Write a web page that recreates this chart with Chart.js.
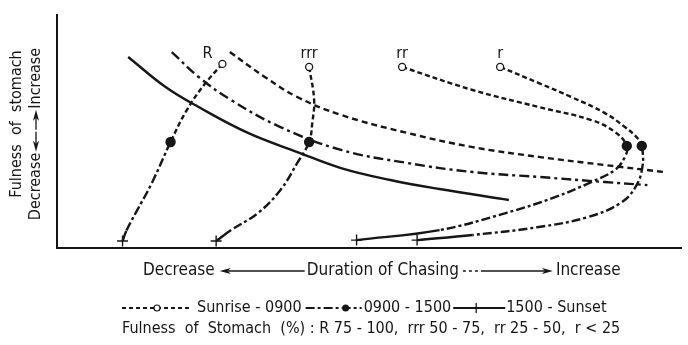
<!DOCTYPE html>
<html>
<head>
<meta charset="utf-8">
<script src="https://cdn.jsdelivr.net/npm/chart.js@4/dist/chart.umd.min.js"></script>
<style>
  html, body { margin: 0; background: #fff; }
  #wrap { width: 688px; height: 345px; }
</style>
</head>
<body>
<div id="wrap"><canvas id="chart"></canvas></div>
<script>
const FONT = '"Liberation Sans Narrow", "DejaVu Sans Condensed", "Roboto Condensed", sans-serif';
const INK = '#161616';

// fullness groups: open circle (sunrise-0900) -> dot (0900-1500) -> plus (1500-sunset)
const groupLabels = ['R', 'rrr', 'rr', 'r'];
const groupDotIndex = [3, 3, 5, 6];
const groupX = [
  [26.5, 23.8, 20.8, 18.2, 15.2, 12.7, 11.1, 10.5],
  [40.4, 41.2, 40.9, 40.4, 38.5, 35.8, 32.2, 27.9, 25.5],
  [55.3, 66.6, 77.2, 85.6, 89.4, 91.3, 91.0, 89.4, 85.6, 79.9, 71.9, 61.3, 48.0],
  [71.0, 77.2, 82.4, 87.8, 91.0, 93.0, 93.7, 93.8, 92.7, 90.3, 85.1, 77.2, 66.6, 57.7]
];
const groupY = [
  [79.0, 70.8, 59.2, 45.5, 27.9, 15.5, 7.3, 3.0],
  [77.7, 63.5, 53.6, 45.5, 36.5, 24.9, 15.0, 7.7, 3.0],
  [77.7, 67.8, 60.5, 54.9, 49.8, 43.8, 39.1, 33.5, 28.3, 21.9, 15.0, 7.7, 3.4],
  [77.7, 70.8, 64.8, 57.9, 51.9, 47.2, 43.8, 34.8, 26.2, 19.3, 13.3, 9.0, 5.6, 3.4]
];

// trend of each time period
const trendLabels = ['Sunrise - 0900', '0900 - 1500', '1500 - Sunset'];
const trendX = [
  [27.7, 33.3, 38.5, 45.5, 56.1, 66.6, 77.2, 87.8, 97.3],
  [18.4, 22.7, 27.9, 35.8, 45.5, 56.1, 66.6, 77.2, 87.8, 94.6],
  [11.4, 17.4, 22.7, 30.6, 38.5, 45.5, 53.4, 61.3, 72.4]
];
const trendY = [
  [84.1, 73.4, 64.8, 57.1, 49.4, 43.3, 39.1, 35.6, 32.6],
  [84.1, 73.4, 63.5, 51.9, 42.1, 36.5, 32.6, 30.5, 28.3, 27.0],
  [82.0, 69.1, 60.5, 49.4, 41.2, 34.3, 29.2, 25.3, 20.6]
];

const DASHED = [6, 4];
const DASHDOT = [10, 4, 3, 4];

const toPoints = (xs, ys) => xs.map((x, i) => ({ x, y: ys[i] }));

const datasets = [];

trendLabels.forEach((label, i) => {
  datasets.push({
    label,
    data: toPoints(trendX[i], trendY[i]),
    borderColor: INK,
    borderWidth: 2.4,
    borderDash: [DASHED, DASHDOT, []][i],
    pointRadius: 0,
    tension: 0.4,
    fill: false
  });
});

groupLabels.forEach((label, i) => {
  const dot = groupDotIndex[i];
  const last = groupX[i].length - 1;
  datasets.push({
    label,
    data: toPoints(groupX[i], groupY[i]),
    borderColor: INK,
    borderWidth: 2.4,
    tension: 0.4,
    fill: false,
    segment: {
      borderDash: c => c.p0DataIndex < dot ? [5, 3] : (c.p0DataIndex >= last - 1 ? [] : [9, 3, 3, 3])
    },
    pointStyle: c => c.dataIndex === last ? 'cross' : 'circle',
    pointRadius: c => c.dataIndex === 0 ? 3.5 : c.dataIndex === dot ? 4.5 : c.dataIndex === last ? 5.5 : 0,
    pointBackgroundColor: c => c.dataIndex === 0 ? '#fff' : INK,
    pointBorderColor: INK,
    pointBorderWidth: c => c.dataIndex === 0 ? 1.3 : 1.4
  });
});

// === Texts drawn on the canvas: labels, axis titles, key ===
const annotate = {
  id: 'annotate',
  afterDraw(chart) {
    const { ctx, scales: { x, y } } = chart;
    ctx.save();
    ctx.fillStyle = INK;
    ctx.strokeStyle = INK;
    ctx.textBaseline = 'middle';

    // group labels above the open circles
    ctx.font = '16px ' + FONT;
    ctx.textAlign = 'center';
    groupLabels.forEach((label, i) => {
      const px = x.getPixelForValue(groupX[i][0]) + (i === 0 ? -15 : 0);
      const py = y.getPixelForValue(groupY[i][0]) - (i === 0 ? 10 : 13);
      ctx.fillText(label, px, py);
    });

    const arrow = (x1, x2, yy, dashLen) => {
      const dir = Math.sign(x2 - x1);
      ctx.lineWidth = 1.3;
      ctx.beginPath();
      if (dashLen) {
        for (let p = 0; p < dashLen; p += 6) {
          ctx.moveTo(x1 + dir * p, yy);
          ctx.lineTo(x1 + dir * (p + 3), yy);
        }
        ctx.moveTo(x1 + dir * dashLen, yy);
      } else {
        ctx.moveTo(x1, yy);
      }
      ctx.lineTo(x2 - dir * 8, yy);
      ctx.stroke();
      ctx.beginPath();
      ctx.moveTo(x2, yy);
      ctx.lineTo(x2 - dir * 11, yy - 3);
      ctx.lineTo(x2 - dir * 8, yy);
      ctx.lineTo(x2 - dir * 11, yy + 3);
      ctx.closePath();
      ctx.fill();
    };

    // x title
    ctx.font = '17px ' + FONT;
    ctx.textAlign = 'left';
    let cx = 143;
    const ty = 271;
    ctx.fillText('Decrease', cx, ty);
    cx += ctx.measureText('Decrease').width + 5;
    arrow(cx + 85, cx, ty);
    cx += 87;
    ctx.fillText('Duration of Chasing', cx, ty);
    cx += ctx.measureText('Duration of Chasing').width + 4;
    arrow(cx, cx + 90, ty, 18);
    cx += 93;
    ctx.fillText('Increase', cx, ty);

    // key row 1
    const ky = 308;
    ctx.font = '16px ' + FONT;
    let kx = 122;
    ctx.lineWidth = 2;
    ctx.setLineDash([4, 3]);
    ctx.beginPath(); ctx.moveTo(kx, ky); ctx.lineTo(kx + 70, ky); ctx.stroke();
    ctx.setLineDash([]);
    ctx.fillStyle = '#fff';
    ctx.lineWidth = 1.2;
    ctx.beginPath(); ctx.arc(kx + 35, ky, 3, 0, Math.PI * 2); ctx.fill(); ctx.stroke();
    ctx.fillStyle = INK;
    kx += 75;
    ctx.fillText('Sunrise - 0900', kx, ky);
    kx += ctx.measureText('Sunrise - 0900').width + 4;
    ctx.lineWidth = 2.2;
    ctx.setLineDash([9, 3, 3, 3]);
    ctx.beginPath(); ctx.moveTo(kx, ky); ctx.lineTo(kx + 56, ky); ctx.stroke();
    ctx.setLineDash([]);
    ctx.beginPath(); ctx.arc(kx + 40, ky, 3.5, 0, Math.PI * 2); ctx.fill();
    kx += 58;
    ctx.fillText('0900 - 1500', kx, ky);
    kx += ctx.measureText('0900 - 1500').width + 2;
    ctx.lineWidth = 2;
    ctx.beginPath(); ctx.moveTo(kx, ky); ctx.lineTo(kx + 52, ky); ctx.stroke();
    ctx.lineWidth = 1.3;
    ctx.beginPath();
    ctx.moveTo(kx + 23, ky - 5); ctx.lineTo(kx + 23, ky + 5);
    ctx.stroke();
    kx += 53;
    ctx.fillText('1500 - Sunset', kx, ky);

    // key row 2
    ctx.fillText('Fulness  of  Stomach  (%) : R 75 - 100,  rrr 50 - 75,  rr 25 - 50,  r < 25', 122, 329);

    // y title, rotated
    ctx.font = '16px ' + FONT;
    ctx.save();
    ctx.translate(17, 124);
    ctx.rotate(-Math.PI / 2);
    ctx.textAlign = 'center';
    ctx.fillText('Fulness  of  stomach', 0, 0);
    ctx.restore();

    ctx.save();
    ctx.translate(36, 134);
    ctx.rotate(-Math.PI / 2);
    ctx.textAlign = 'left';
    const w1 = ctx.measureText('Decrease').width;
    const w2 = ctx.measureText('Increase').width;
    const total = w1 + w2 + 44;
    let rx = -total / 2;
    ctx.fillText('Decrease', rx, 0);
    rx += w1 + 1;
    arrow(rx + 20, rx, 0);
    rx += 22;
    arrow(rx, rx + 20, 0);
    rx += 21;
    ctx.fillText('Increase', rx, 0);
    ctx.restore();

    ctx.restore();
  }
};

const hideAxis = {
  ticks: { display: false },
  grid: { display: false },
  border: { display: true, color: INK, width: 2 }
};

new Chart(document.getElementById('chart'), {
  type: 'line',
  data: { datasets },
  options: {
    responsive: true,
    maintainAspectRatio: false,
    animation: false,
    layout: { padding: { left: 57, top: 15, right: 0, bottom: 97 } },
    scales: {
      x: { type: 'linear', min: 0, max: 100, ...hideAxis, afterFit(s) { s.height = 0; } },
      y: { type: 'linear', min: 0, max: 100, ...hideAxis, afterFit(s) { s.width = 0; } }
    },
    plugins: {
      legend: { display: false },
      tooltip: { enabled: false }
    }
  },
  plugins: [annotate]
});
</script>
</body>
</html>
